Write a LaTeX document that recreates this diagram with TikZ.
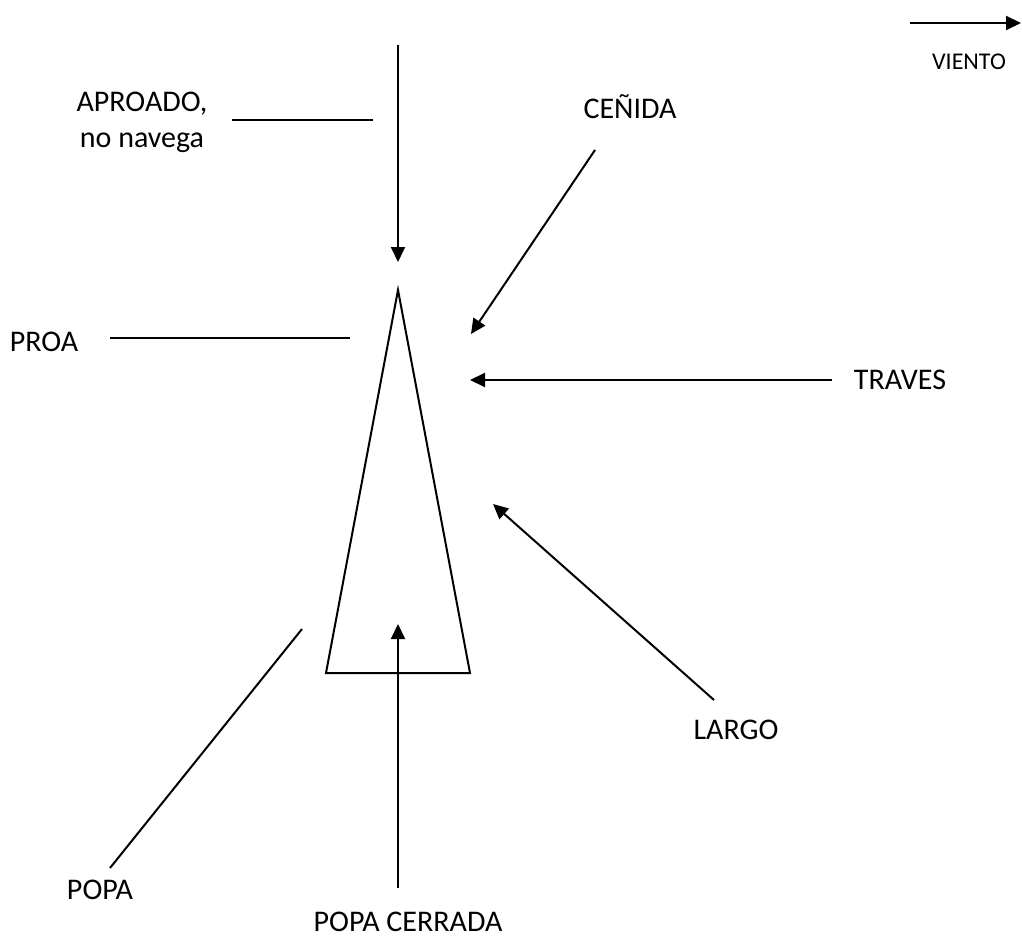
\documentclass[tikz,border=0pt]{standalone}
\usepackage{fontspec}
\setmainfont{Carlito}
\usetikzlibrary{arrows.meta}
\tikzset{
  rumbo/.style={line width=2pt, -{Triangle[length=15pt,width=14pt]}},
  guia/.style={line width=2pt},
  etiqueta/.style={font=\fontsize{30}{36}\selectfont, align=center, inner sep=0pt},
}

\begin{document}
\begin{tikzpicture}[x=1pt, y=-1pt]
  \useasboundingbox (0,0) rectangle (1022,939);
  % Wind reference
  \coordinate (vientoA) at (910,23);
  \coordinate (vientoB) at (1021,23);
  \draw[rumbo] (vientoA) -- (vientoB);
  \node[font=\fontsize{24}{28}\selectfont, inner sep=0pt] (viento) at (969,62) {VIENTO};
  % Hull
  \coordinate (proa) at (398,290);
  \coordinate (popaIzq) at (326,673);
  \coordinate (popaDer) at (470,673);
  \draw[guia, line join=miter] (proa) -- (popaDer) -- (popaIzq) -- cycle;
  % Labels
  \node[etiqueta] (aproado) at (142,122) {APROADO,\\no navega};
  \node[etiqueta] (cenida)  at (630,107) {CEÑIDA};
  \node[etiqueta] (proaLbl) at (44,342)  {PROA};
  \node[etiqueta] (traves)  at (900,380) {TRAVES};
  \node[etiqueta] (largo)   at (736,730) {LARGO};
  \node[etiqueta] (popa)    at (100,890) {POPA};
  \node[etiqueta] (cerrada) at (408,922) {POPA CERRADA};
  % Wind arrows
  \coordinate (aproadoA) at (398,45);
  \coordinate (aproadoB) at (398,262);
  \draw[rumbo] (aproadoA) -- (aproadoB);
  \coordinate (cenidaA) at (595,150);
  \coordinate (cenidaB) at (471,334);
  \draw[rumbo] (cenidaA) -- (cenidaB);
  \coordinate (travesA) at (832,380);
  \coordinate (travesB) at (470,380);
  \draw[rumbo] (travesA) -- (travesB);
  \coordinate (largoA) at (714,700);
  \coordinate (largoB) at (493,504);
  \draw[rumbo] (largoA) -- (largoB);
  \coordinate (cerradaA) at (398,888);
  \coordinate (cerradaB) at (398,624);
  \draw[rumbo] (cerradaA) -- (cerradaB);
  % Pointer lines
  \coordinate (aproadoL1) at (232,120);
  \coordinate (aproadoL2) at (373,120);
  \draw[guia] (aproadoL1) -- (aproadoL2);
  \coordinate (proaL1) at (110,338);
  \coordinate (proaL2) at (350,338);
  \draw[guia] (proaL1) -- (proaL2);
  \coordinate (popaL1) at (110,868);
  \coordinate (popaL2) at (302,629);
  \draw[guia] (popaL1) -- (popaL2);
\end{tikzpicture}
\end{document}
